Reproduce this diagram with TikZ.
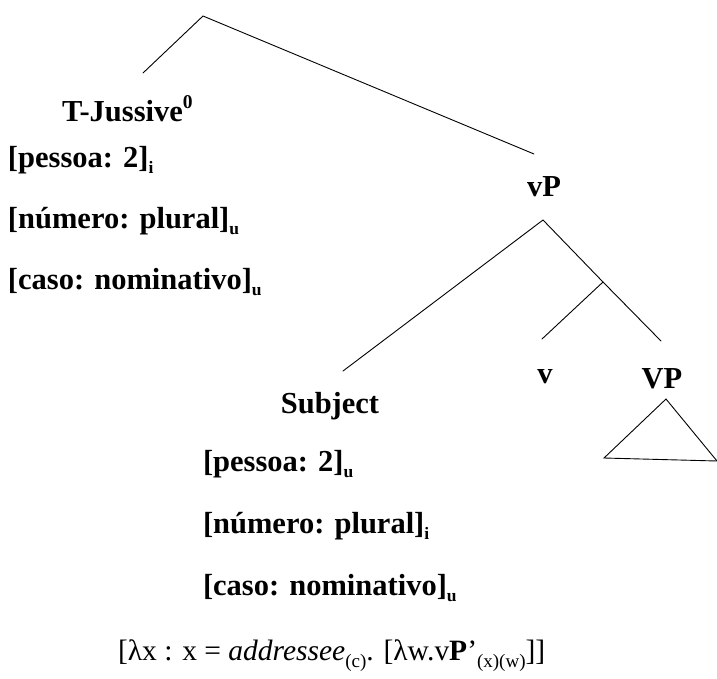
\documentclass[tikz,border=0pt]{standalone}
\usepackage{fontspec}
\setmainfont{Liberation Serif}
\begin{document}
\begin{tikzpicture}[x=1pt,y=-1pt,
  lbl/.style={inner sep=0pt, outer sep=0pt, font=\fontsize{30.5}{31}\selectfont\bfseries},
  formula/.style={inner sep=0pt, outer sep=0pt, font=\fontsize{29.5}{30}\selectfont},
  branch/.style={line width=0.9pt, line cap=round}]
\newcommand{\lowsub}[1]{\raisebox{-0.22em}{\fontsize{17.5}{17.5}\selectfont #1}}
\newcommand{\rmsub}[1]{\raisebox{-0.25em}{\fontsize{19}{19}\selectfont #1}}
\useasboundingbox (0,0) rectangle (717,678);

% branching points and free line ends
\coordinate (root) at (203,16);
\coordinate (tjtop) at (143,73);
\coordinate (vptop) at (534,154);
\coordinate (vpfork) at (543,220);
\coordinate (subjtop) at (343,371);
\coordinate (vbar) at (603,282);
\coordinate (vtop) at (542,339);
\coordinate (VPtop) at (661,341);
\coordinate (triapex) at (666,399);
\coordinate (trileft) at (604,458);
\coordinate (triright) at (717,461);

% T head and its features
\node[lbl, anchor=base west] (tj) at (62,121) {T-Jussive\raisebox{0.42em}{\fontsize{19.5}{19.5}\selectfont 0}};
\node[lbl, anchor=base west] (tpess) at (8,167) {[pessoa: 2]\lowsub{i}};
\node[lbl, anchor=base west] (tnum) at (8,228) {[número: plural]\lowsub{u}};
\node[lbl, anchor=base west] (tcaso) at (8,289) {[caso: nominativo]\lowsub{u}};

% vP and its daughters
\node[lbl, anchor=base] (vp) at (544,196) {vP};
\node[lbl, anchor=base] (subj) at (330,413) {Subject};
\node[lbl, anchor=base] (v) at (545,383) {v};
\node[lbl, anchor=base] (VP) at (662,388) {VP};

% subject features
\node[lbl, anchor=base west] (spess) at (203,471) {[pessoa: 2]\lowsub{u}};
\node[lbl, anchor=base west] (snum) at (203,533) {[número: plural]\lowsub{i}};
\node[lbl, anchor=base west] (scaso) at (203,595) {[caso: nominativo]\lowsub{u}};

% denotation
\node[formula, anchor=base west] (den) at (118,660)
  {[λx : x = \textit{addressee}\rmsub{(c)}. [λw.v\textbf{P}’\rmsub{(x)(w)}]]};

% branches
\draw[branch] (tjtop) -- (root) -- (vptop);
\draw[branch] (subjtop) -- (vpfork) -- (vbar) -- (VPtop);
\draw[branch] (vtop) -- (vbar);
\draw[branch] (trileft) -- (triapex) -- (triright) -- cycle;
\end{tikzpicture}
\end{document}
